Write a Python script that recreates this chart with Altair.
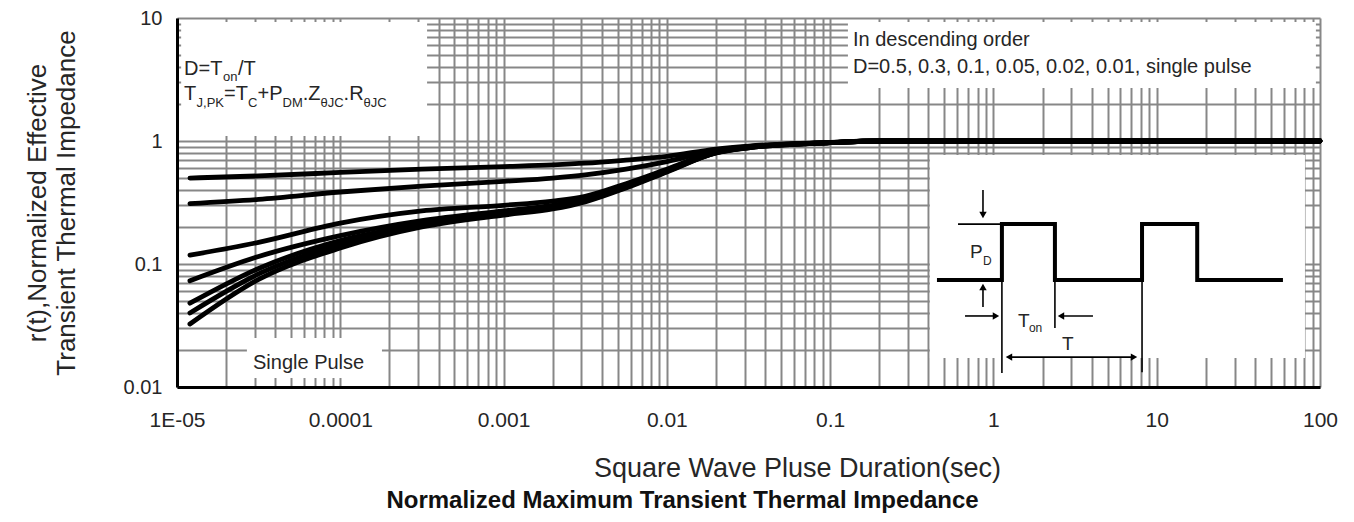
import altair as alt
import pandas as pd

# ---------------- data ----------------
t_sec = [1.2e-5, 3.16e-5, 1e-4, 3.16e-4, 1e-3, 2e-3, 3.16e-3, 5.62e-3, 1e-2, 2e-2, 3.16e-2, 0.1, 0.2, 100]
r_d05 = [0.50, 0.52, 0.555, 0.59, 0.62, 0.64, 0.66, 0.70, 0.75, 0.86, 0.91, 0.975, 1.0, 1.0]
r_d03 = [0.31, 0.335, 0.385, 0.43, 0.47, 0.50, 0.53, 0.59, 0.68, 0.84, 0.90, 0.97, 1.0, 1.0]
r_d01 = [0.118, 0.15, 0.215, 0.27, 0.30, 0.325, 0.355, 0.45, 0.59, 0.82, 0.895, 0.97, 1.0, 1.0]
r_d005 = [0.073, 0.115, 0.17, 0.225, 0.27, 0.30, 0.335, 0.43, 0.575, 0.81, 0.89, 0.97, 1.0, 1.0]
r_d002 = [0.048, 0.092, 0.155, 0.21, 0.26, 0.29, 0.33, 0.425, 0.57, 0.805, 0.885, 0.97, 1.0, 1.0]
r_d001 = [0.040, 0.083, 0.145, 0.205, 0.255, 0.285, 0.325, 0.42, 0.565, 0.80, 0.88, 0.97, 1.0, 1.0]
r_single = [0.0325, 0.075, 0.135, 0.20, 0.25, 0.28, 0.32, 0.415, 0.56, 0.80, 0.88, 0.97, 1.0, 1.0]
series_names = ["D=0.5", "D=0.3", "D=0.1", "D=0.05", "D=0.02", "D=0.01", "single pulse"]
series_vals = [r_d05, r_d03, r_d01, r_d005, r_d002, r_d001, r_single]

x_decades = [1e-05, 0.0001, 0.001, 0.01, 0.1, 1, 10, 100]
x_labels = ["1E-05", "0.0001", "0.001", "0.01", "0.1", "1", "10", "100"]
y_decades = [0.01, 0.1, 1, 10]
y_labels = ["0.01", "0.1", "1", "10"]
minor_mult = [1, 2, 3, 4, 5, 6, 7, 8, 9]

# white annotation boxes (x from, x to, y from, y to) in data units
box_t1 = [1.06e-5, 0.1285, 0.408, 2.68e-5]
box_t2 = [3.40e-4, 94.4, 80.9, 1.80e-4]
box_r1 = [9.28, 9.28, 0.769, 0.0250]
box_r2 = [1.098, 2.70, 0.0172, 0.01184]

# inset waveform (square pulse train)
wave_t = [0.451, 1.127, 1.127, 2.38, 2.38, 8.13, 8.13, 17.7, 17.7, 59.3]
wave_r = [0.0741, 0.0741, 0.211, 0.211, 0.0741, 0.0741, 0.211, 0.211, 0.0741, 0.0741]

# thin guide lines of the inset
guide_t1 = [0.607, 1.127, 2.38, 8.13, 0.863, 0.863, 0.670, 4.07, 1.245]
guide_t2 = [1.127, 1.127, 2.38, 8.13, 0.863, 0.863, 1.036, 2.593, 7.26]
guide_r1 = [0.211, 0.0741, 0.0741, 0.0741, 0.400, 0.0447, 0.0378, 0.0378, 0.0175]
guide_r2 = [0.211, 0.0130, 0.0302, 0.0132, 0.250, 0.0650, 0.0378, 0.0378, 0.0175]

# arrow heads
head_t = [0.863, 0.863, 1.036, 2.593, 1.245, 7.26]
head_r = [0.250, 0.0650, 0.0378, 0.0378, 0.0175, 0.0175]
head_shape = ["triangle-down", "triangle-up", "triangle-right", "triangle-left",
              "triangle-left", "triangle-right"]

# ---------------- frames ----------------
curves = pd.DataFrame(
    [{"t": t, "r": r, "series": n, "i": k}
     for n, vals in zip(series_names, series_vals)
     for k, (t, r) in enumerate(zip(t_sec, vals))]
)
boxes = pd.DataFrame({"t": box_t1, "t2": box_t2, "r": box_r1, "r2": box_r2})
wave = pd.DataFrame({"t": wave_t, "r": wave_r, "i": list(range(len(wave_t)))})
guides = pd.DataFrame({"t": guide_t1, "t2": guide_t2, "r": guide_r1, "r2": guide_r2})
heads = pd.DataFrame({"t": head_t, "r": head_r, "shape": head_shape})

x_grid = [m * d for d in x_decades[:-1] for m in minor_mult] + [x_decades[-1]]
y_grid = [m * d for d in y_decades[:-1] for m in minor_mult] + [y_decades[-1]]


def label_expr(vals, labs):
    parts = [f"abs(datum.value - {v!r}) < {v!r} * 1e-6 ? '{l}'" for v, l in zip(vals, labs)]
    return " : ".join(parts) + " : ''"


FONT = "Liberation Sans"
TXT = "#262626"
GRID = "#878787"

x_scale = alt.Scale(type="log", domain=[1e-5, 100], nice=False)
y_scale = alt.Scale(type="log", domain=[0.01, 10], nice=False)
x_axis = alt.Axis(values=x_grid, grid=True, gridColor=GRID, gridWidth=2, ticks=False, tickSize=0,
                  domainColor="black", domainWidth=3, labelExpr=label_expr(x_decades, x_labels),
                  labelFont=FONT, labelFontSize=21, labelColor=TXT, labelPadding=22,
                  labelFlush=False, labelOverlap=False,
                  title="Square Wave Pluse Duration(sec)", titleFont=FONT, titleFontSize=27,
                  titleFontWeight="normal", titleColor=TXT, titlePadding=25, titleX=620)
y_axis = alt.Axis(values=y_grid, grid=True, gridColor=GRID, gridWidth=2, ticks=False, tickSize=0,
                  domainColor="black", domainWidth=3, labelExpr=label_expr(y_decades, y_labels),
                  labelFont=FONT, labelFontSize=20, labelColor=TXT, labelPadding=15,
                  labelFlush=False, labelOverlap=False,
                  title=["r(t),Normalized Effective", "Transient Thermal Impedance"],
                  titleFont=FONT, titleFontSize=26, titleFontWeight="normal", titleColor=TXT,
                  titleLineHeight=29, titlePadding=44)


def X(f="t"):
    return alt.X(f"{f}:Q", scale=x_scale, axis=x_axis)


def Y(f="r"):
    return alt.Y(f"{f}:Q", scale=y_scale, axis=y_axis)


layers = []
layers.append(alt.Chart(boxes).mark_rect(fill="white", stroke=None).encode(
    x=X(), x2="t2:Q", y=Y(), y2="r2:Q"))
layers.append(alt.Chart(curves).mark_line(color="black", strokeWidth=4.8, interpolate="monotone",
                                          strokeCap="round").encode(
    x=X(), y=Y(), detail="series:N", order="i:Q"))
layers.append(alt.Chart(wave).mark_line(color="black", strokeWidth=4, strokeJoin="miter").encode(
    x=X(), y=Y(), order="i:Q"))
layers.append(alt.Chart(guides).mark_rule(color="black", strokeWidth=1.6).encode(
    x=X(), x2="t2:Q", y=Y(), y2="r2:Q"))
layers.append(alt.Chart(heads).mark_point(filled=True, color="black", size=55, opacity=1).encode(
    x=X(), y=Y(), shape=alt.Shape("shape:N", scale=None)))


def text_line(t, r, segments):
    """segments: (text, dx, size, dy)"""
    out = []
    anchor = pd.DataFrame({"t": [t], "r": [r]})
    for txt, dx, size, dy in segments:
        out.append(alt.Chart(anchor).mark_text(
            text=txt, dx=dx, dy=dy, fontSize=size, font=FONT, color=TXT,
            align="left", baseline="alphabetic").encode(x=X(), y=Y()))
    return out


layers += text_line(1.104e-5, 3.44, [("D=T", 0, 20, 0), ("on", 39, 13, 6), ("/T", 54, 20, 0)])
layers += text_line(1.104e-5, 2.15, [
    ("T", 0, 20, 0), ("J,PK", 12.5, 13, 7), ("=T", 40, 20, 0), ("C", 64, 13, 7),
    ("+P", 73.5, 20, 0), ("DM", 98.5, 13, 7), (".Z", 118.7, 20, 0), ("θJC", 136.5, 13, 7),
    (".R", 159.6, 20, 0), ("θJC", 179.6, 13, 7)])
layers += text_line(0.138, 5.92, [("In descending order", 0, 20, 0)])
layers += text_line(0.138, 3.59, [("D=0.5, 0.3, 0.1, 0.05, 0.02, 0.01, single pulse", 0, 20, 0)])
layers += text_line(2.92e-5, 0.0140, [("Single Pulse", 0, 20, 0)])
layers += text_line(0.718, 0.112, [("P", 0, 19, 0), ("D", 13, 12, 7)])
layers += text_line(1.413, 0.0308, [("T", 0, 19, 0), ("on", 11, 12, 5)])
layers += text_line(2.63, 0.0200, [("T", 0, 19, 0)])

chart = alt.layer(*layers).properties(
    width=1143, height=369,
    autosize=alt.AutoSizeParams(type="none"),
    padding={"left": 169, "top": 10, "right": 26, "bottom": 127},
    title=alt.TitleParams("Normalized Maximum Transient Thermal Impedance", orient="bottom",
                          font=FONT, fontSize=24, fontWeight="bold", color="#111111",
                          anchor="middle", dx=-66, offset=8),
).configure_view(stroke=None)

chart.save("out.html", embed_options={"renderer": "svg", "actions": False})
